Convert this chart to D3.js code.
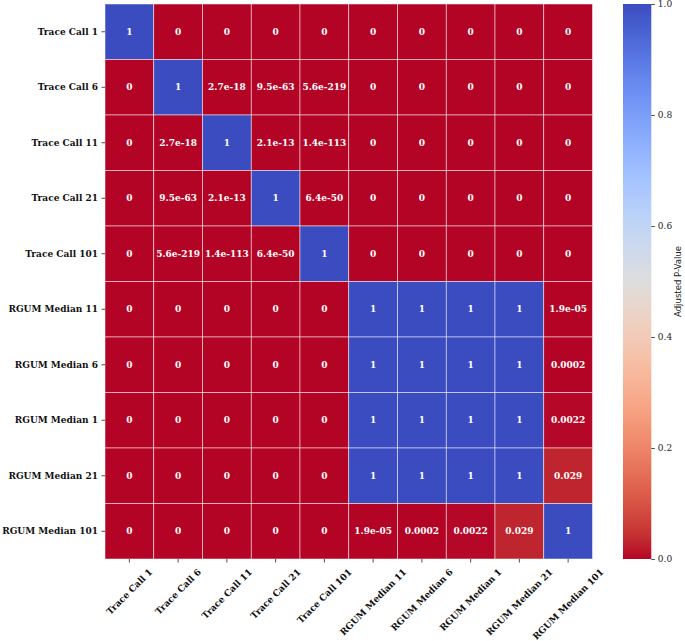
<!DOCTYPE html>
<html><head><meta charset="utf-8">
<script src="https://cdn.jsdelivr.net/npm/d3@7"></script>
<style>body{margin:0;background:#fff}svg{display:block}
.sf{font-family:"DejaVu Serif","Liberation Serif",serif}</style>
</head><body><svg id="c" width="685" height="641"></svg>
<script>
const labels = ["Trace Call 1","Trace Call 6","Trace Call 11","Trace Call 21","Trace Call 101",
  "RGUM Median 11","RGUM Median 6","RGUM Median 1","RGUM Median 21","RGUM Median 101"];
const pvalues = [
  [1,0,0,0,0,0,0,0,0,0],
  [0,1,2.7e-18,9.5e-63,5.6e-219,0,0,0,0,0],
  [0,2.7e-18,1,2.1e-13,1.4e-113,0,0,0,0,0],
  [0,9.5e-63,2.1e-13,1,6.4e-50,0,0,0,0,0],
  [0,5.6e-219,1.4e-113,6.4e-50,1,0,0,0,0,0],
  [0,0,0,0,0,1,1,1,1,1.9e-05],
  [0,0,0,0,0,1,1,1,1,0.0002],
  [0,0,0,0,0,1,1,1,1,0.0022],
  [0,0,0,0,0,1,1,1,1,0.029],
  [0,0,0,0,0,1.9e-05,0.0002,0.0022,0.029,1]
];
const colorbarTicks = [0,0.2,0.4,0.6,0.8,1.0];
const colorbarLabel = "Adjusted P-Value";
// matplotlib coolwarm control colours (used reversed)
const coolwarm = [[59,76,192],[68,90,204],[77,104,215],[87,117,225],[98,130,234],[108,142,241],[119,154,247],[130,165,251],[141,176,254],[152,185,255],[163,194,255],[174,201,253],[184,208,249],[194,213,244],[204,217,238],[213,219,230],[221,221,221],[229,216,209],[236,211,197],[241,204,185],[245,196,173],[247,187,160],[247,177,148],[247,166,135],[244,154,123],[241,141,111],[236,127,99],[229,112,88],[222,96,77],[213,80,66],[203,62,56],[192,40,47],[180,4,38]];

function coolwarmAt(t){
  t=Math.max(0,Math.min(1,t));
  const n=coolwarm.length-1, p=t*n, i=Math.min(n-1,Math.floor(p)), f=p-i;
  const a=coolwarm[i], b=coolwarm[i+1];
  return d3.rgb(a[0]+(b[0]-a[0])*f, a[1]+(b[1]-a[1])*f, a[2]+(b[2]-a[2])*f).formatHex();
}
const color = d3.scaleSequential(v => coolwarmAt(1 - v)).domain([0,1]);

function fmt2g(v){
  if (v===0) return "0";
  const e = Math.floor(Math.log10(Math.abs(v)));
  if (e < -4 || e >= 2){
    let [m, ex] = v.toExponential(1).split("e");
    m = m.replace(/\.0$/,"");
    const sign = ex[0]==="-"?"-":"+";
    let d = ex.replace(/^[+-]/,"");
    if (d.length<2) d="0"+d;
    return m+"e"+sign+d;
  }
  let s = v.toPrecision(2);
  if (s.indexOf(".")>=0) s = s.replace(/0+$/,"").replace(/\.$/,"");
  return s;
}

const svg = d3.select("#c");
const X0=105, X1=592.5, Y0=4, Y1=559;
const x = d3.scaleBand().domain(labels).range([X0,X1]);
const y = d3.scaleBand().domain(labels).range([Y0,Y1]);
const FS = 9;

const cells = [];
pvalues.forEach((row,i)=>row.forEach((v,j)=>cells.push({r:labels[i],c:labels[j],v})));

svg.append("g").selectAll("rect").data(cells).join("rect")
  .attr("x",d=>x(d.c)).attr("y",d=>y(d.r))
  .attr("width",x.bandwidth()).attr("height",y.bandwidth())
  .attr("fill",d=>color(d.v))
  .attr("stroke","#fff").attr("stroke-opacity",0.7).attr("stroke-width",0.7);

svg.append("g").selectAll("text").data(cells).join("text").attr("class","sf")
  .attr("x",d=>x(d.c)+x.bandwidth()/2).attr("y",d=>y(d.r)+y.bandwidth()/2)
  .attr("text-anchor","middle").attr("dy","0.35em")
  .attr("font-weight","bold").attr("font-size",FS)
  .attr("fill","#fff").text(d=>fmt2g(d.v));

const yAxis = svg.append("g").attr("transform",`translate(${X0},0)`)
  .call(d3.axisLeft(y).tickSize(3.5).tickPadding(3.5));
const xAxis = svg.append("g").attr("transform",`translate(0,${Y1})`)
  .call(d3.axisBottom(x).tickSize(3.5).tickPadding(3.5));
[yAxis,xAxis].forEach(g=>{
  g.attr("font-family",null).attr("font-size",null);
  g.select(".domain").remove();
  g.selectAll(".tick line").attr("stroke","#222").attr("stroke-width",0.8);
  g.selectAll("text").attr("class","sf").attr("font-weight","bold")
    .attr("font-size",FS).attr("fill","#111");
});
// x labels: rotated 45°, bounding box centred on the tick (matplotlib ha='center')
const LABEL_TOP = 9; // gap from axis to top of rotated label box
xAxis.selectAll(".tick text").each(function(){
  const t = d3.select(this);
  t.attr("text-anchor","middle").attr("dy","0.35em").attr("y",0);
  const len = this.getComputedTextLength();
  const h = FS*0.75;
  const half = (len + h) * Math.SQRT1_2 / 2;
  t.attr("transform",`translate(0,${LABEL_TOP + half}) rotate(-45)`);
});

// colorbar
const CB0=623, CB1=651.3;
const cy = d3.scaleLinear().domain([0,1]).range([Y1,Y0]);
const grad = svg.append("defs").append("linearGradient").attr("id","cbg")
  .attr("x1","0").attr("y1","1").attr("x2","0").attr("y2","0");
d3.range(0,1.0001,0.02).forEach(t=>grad.append("stop")
  .attr("offset",t).attr("stop-color",color(t)));
svg.append("rect").attr("x",CB0).attr("y",Y0).attr("width",CB1-CB0).attr("height",Y1-Y0)
  .attr("fill","url(#cbg)");
const cAxis = svg.append("g").attr("transform",`translate(${CB1},0)`)
  .call(d3.axisRight(cy).tickValues(colorbarTicks).tickFormat(d3.format(".1f")).tickSize(3.5).tickPadding(3));
cAxis.attr("font-family",null).attr("font-size",null);
cAxis.select(".domain").remove();
cAxis.selectAll(".tick line").attr("stroke","#222").attr("stroke-width",0.8);
cAxis.selectAll("text").attr("class","sf").attr("font-size",FS).attr("fill","#222");
svg.append("text").attr("transform",`translate(678,${(Y0+Y1)/2}) rotate(-90)`)
  .attr("text-anchor","middle").attr("dy","0.35em")
  .attr("font-family","'DejaVu Sans Condensed','DejaVu Sans',sans-serif").attr("font-stretch","condensed")
  .attr("font-size",9.5).attr("fill","#222").text(colorbarLabel);
</script></body></html>
